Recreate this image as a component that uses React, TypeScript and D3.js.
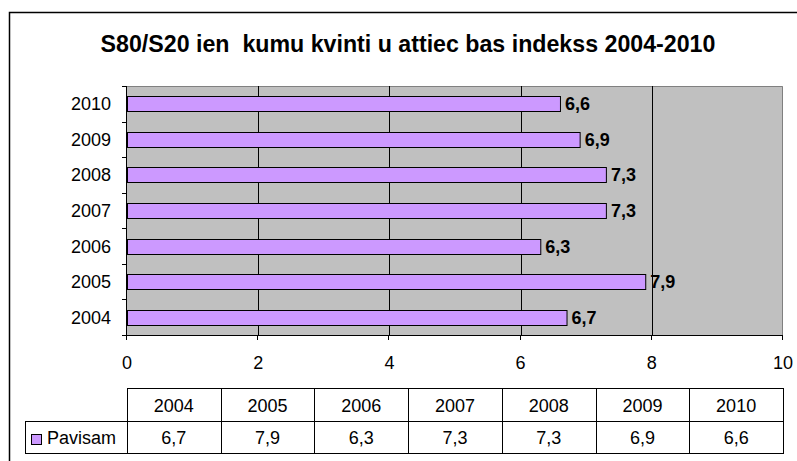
import * as d3 from "d3";
import React from "react";

// chart data
const years = ["2004", "2005", "2006", "2007", "2008", "2009", "2010"];
const values = [6.7, 7.9, 6.3, 7.3, 7.3, 6.9, 6.6];
const xTicks = [0, 2, 4, 6, 8, 10];
const seriesName = "Pavisam";
const title = "S80/S20 ien  kumu kvinti u attiec bas indekss 2004-2010";

const W = 797;
const H = 461;
const plot = {left: 127, right: 783, top: 86, bottom: 335};
const table = {top: 388, mid: 421, bottom: 453, legendLeft: 25};
const font = "Arial, 'Liberation Sans', sans-serif";
const fmt = (v: number) => v.toFixed(1).replace(".", ",");

export default function App() {
    const x = d3.scaleLinear().domain([0, 10]).range([plot.left, plot.right]);
    // 2010 on top, 2004 at the bottom
    const y = d3.scaleBand<string>()
        .domain([...years].reverse())
        .range([plot.top, plot.bottom])
        .padding(0);
    const barH = y.bandwidth() * 0.42;

    const col = d3.scaleBand<string>().domain(years).range([plot.left, plot.right]);

    return (
        <svg width={W} height={H} style={{position: "absolute", left: 0, top: 0}} fontFamily={font}>
            <rect x={0} y={0} width={W} height={H} fill="#fff"/>
            {/* outer chart border */}
            <rect x={9.5} y={12.5} width={W} height={H} fill="none" stroke="#000" strokeWidth={1.5}/>

            <text x={408} y={52} textAnchor="middle" fontSize={23.2}
                  fontWeight="bold" style={{whiteSpace: "pre"}}>{title}</text>

            {/* plot area */}
            <rect x={plot.left} y={plot.top} width={plot.right - plot.left} height={plot.bottom - plot.top}
                  fill="#C0C0C0"/>
            <path d={`M${plot.left},${plot.top + 0.5}H${plot.right - 0.5}V${plot.bottom}`} fill="none"
                  stroke="#808080" strokeWidth={1}/>
            {xTicks.filter(t => t > 0 && t < 10).map(t => (
                <line key={t} x1={Math.round(x(t)) + 0.5} x2={Math.round(x(t)) + 0.5} y1={plot.top}
                      y2={plot.bottom} stroke="#000" strokeWidth={1}/>
            ))}

            {/* bars */}
            {years.map((yr, i) => {
                const cy = (y(yr) as number) + y.bandwidth() / 2;
                return (
                    <g key={yr}>
                        <rect x={plot.left + 0.5} y={Math.round(cy - barH / 2) + 0.5}
                              width={x(values[i]) - plot.left} height={Math.round(barH)}
                              fill="#CC99FF" stroke="#000" strokeWidth={1}/>
                        <text x={x(values[i]) + 5} y={cy + 6.5} fontSize={18} fontWeight="bold">{fmt(values[i])}</text>
                    </g>
                );
            })}

            {/* y axis */}
            <line x1={plot.left - 0.5} x2={plot.left - 0.5} y1={plot.top} y2={plot.bottom + 0.5} stroke="#000"/>
            {[...y.domain(), ""].map((d, i) => {
                const ty = Math.round(plot.top + i * y.step()) + 0.5;
                return <line key={i} x1={plot.left - 5} x2={plot.left} y1={ty} y2={ty} stroke="#000"/>;
            })}
            {years.map(yr => (
                <text key={yr} x={111} y={(y(yr) as number) + y.bandwidth() / 2 + 6.5} textAnchor="end"
                      fontSize={18}>{yr}</text>
            ))}

            {/* x axis */}
            <line x1={plot.left - 1} x2={plot.right} y1={plot.bottom + 0.5} y2={plot.bottom + 0.5} stroke="#000"/>
            {xTicks.map(t => (
                <g key={t}>
                    <line x1={Math.round(x(t)) - 0.5} x2={Math.round(x(t)) - 0.5} y1={plot.bottom}
                          y2={plot.bottom + 5} stroke="#000"/>
                    <text x={x(t)} y={369} textAnchor="middle" fontSize={18}>{t}</text>
                </g>
            ))}

            {/* data table */}
            <g stroke="#000" strokeWidth={1} fill="none">
                <rect x={plot.left + 0.5} y={table.top + 0.5} width={plot.right - plot.left}
                      height={table.bottom - table.top}/>
                <rect x={table.legendLeft + 0.5} y={table.mid + 0.5} width={plot.right - table.legendLeft}
                      height={table.bottom - table.mid}/>
                {years.slice(1).map(yr => (
                    <line key={yr} x1={Math.round(col(yr) as number) + 0.5} x2={Math.round(col(yr) as number) + 0.5}
                          y1={table.top} y2={table.bottom}/>
                ))}
            </g>
            {years.map((yr, i) => {
                const cx = (col(yr) as number) + col.bandwidth() / 2;
                return (
                    <g key={yr} fontSize={18} textAnchor="middle">
                        <text x={cx} y={table.top + 23.5}>{yr}</text>
                        <text x={cx} y={table.mid + 23}>{fmt(values[i])}</text>
                    </g>
                );
            })}
            <rect x={31.5} y={434.5} width={10} height={10} fill="#CC99FF" stroke="#000"/>
            <text x={47} y={table.mid + 23} fontSize={18}>{seriesName}</text>
        </svg>
    );
}
